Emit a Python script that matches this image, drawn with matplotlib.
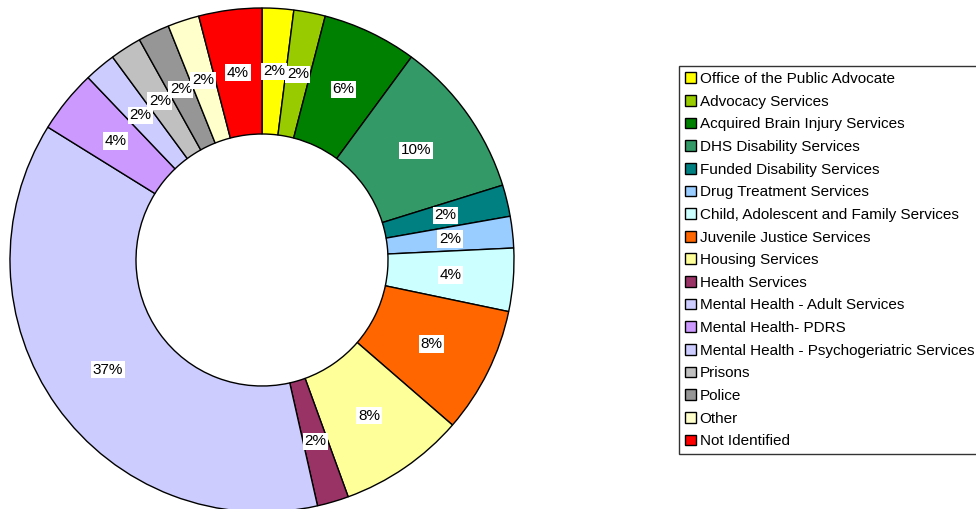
import numpy as np
import matplotlib.pyplot as plt

plt.rcParams['font.family'] = ['Liberation Sans', 'DejaVu Sans']

services = ['Office of the Public Advocate', 'Advocacy Services',
            'Acquired Brain Injury Services', 'DHS Disability Services',
            'Funded Disability Services', 'Drug Treatment Services',
            'Child, Adolescent and Family Services', 'Juvenile Justice Services',
            'Housing Services', 'Health Services', 'Mental Health - Adult Services',
            'Mental Health- PDRS', 'Mental Health - Psychogeriatric Services',
            'Prisons', 'Police', 'Other', 'Not Identified']
percent = [2, 2, 6, 10, 2, 2, 4, 8, 8, 2, 37, 4, 2, 2, 2, 2, 4]
colours = ['#FFFF00', '#99CC00', '#008000', '#339966', '#008080', '#99CCFF',
           '#CCFFFF', '#FF6600', '#FFFF99', '#993366', '#CCCCFF', '#CC99FF',
           '#CCCCFF', '#C0C0C0', '#969696', '#FFFFCC', '#FF0000']

fig = plt.figure(figsize=(9.76, 5.09), dpi=100)
ax = fig.add_axes([10/976, -3/509, 504/976, 504/509])

wedges, texts = ax.pie(percent, colors=colours, startangle=90, counterclock=False,
                       radius=1, wedgeprops=dict(width=0.5, edgecolor='black', linewidth=1))

# percentage labels in the middle of the ring
total = sum(percent)
angle = 90.0
for p in percent:
    span = 360.0 * p / total
    mid = np.deg2rad(angle - span / 2)
    ax.text(0.75 * np.cos(mid), 0.75 * np.sin(mid), '%d%%' % p,
            ha='center', va='center', fontsize=11,
            bbox=dict(facecolor='white', edgecolor='none', pad=1.2))
    angle -= span

ax.set_xlim(-1, 1)
ax.set_ylim(-1, 1)
ax.set_aspect('equal')
ax.axis('off')

leg = fig.legend(wedges, services, loc='upper left',
                 bbox_to_anchor=(679/976, 1 - 66/509), fontsize=11,
                 frameon=True, fancybox=False, shadow=False,
                 handlelength=0.7, handleheight=0.7, handletextpad=0.25,
                 labelspacing=0.565, borderpad=0.4, borderaxespad=0)
leg.get_frame().set_edgecolor('black')
leg.get_frame().set_linewidth(1)
for h in leg.legend_handles:
    h.set_linewidth(1)

fig.savefig('out.png', dpi=100)
